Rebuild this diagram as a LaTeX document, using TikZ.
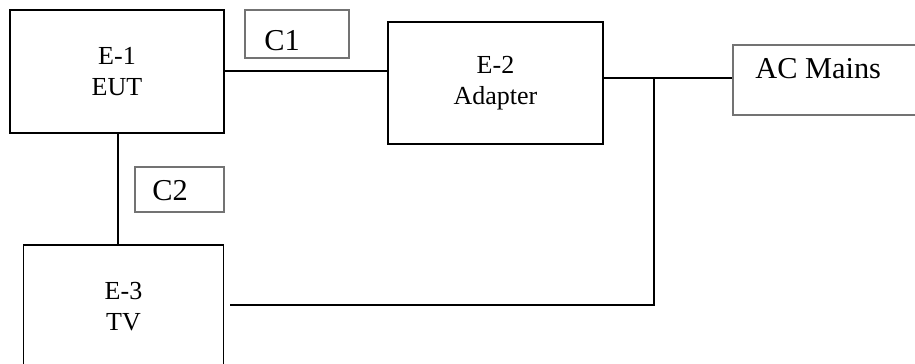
\documentclass[tikz,border=0pt]{standalone}
\usepackage{fontspec}
\setmainfont{Liberation Serif}
\def\pxu{0.4615pt}
\begin{document}
\begin{tikzpicture}[x=0.4615pt,y=-0.4615pt,
  ebox/.style={draw=black,line width=0.9pt,inner sep=0pt,align=center,font=\fontsize{12}{14.3}\selectfont},
  cbox/.style={draw=black!55,line width=0.5pt,inner sep=0pt},
  ctext/.style={inner sep=0pt,anchor=base west,font=\fontsize{14}{16}\selectfont},
  wire/.style={line width=0.8pt}]
\useasboundingbox (0,0) rectangle (915,364);
\clip (0,0) rectangle (915,364);
% equipment boxes
\node[ebox,minimum width=214*\pxu,minimum height=123*\pxu] (e1) at (117,71.5) {E-1\\EUT};
\node[ebox,minimum width=215*\pxu,minimum height=122*\pxu] (e2) at (495.5,83) {E-2\\Adapter};
\node[ebox,minimum width=200*\pxu,minimum height=124*\pxu] (e3) at (123.5,307) {E-3\\TV};
% cable / mains label boxes
\node[cbox,minimum width=104*\pxu,minimum height=48*\pxu] (c1) at (297,34) {};
\node[ctext] (c1t) at (264,50) {C1};
\node[cbox,minimum width=89*\pxu,minimum height=45*\pxu] (c2) at (179.5,189.5) {};
\node[ctext] (c2t) at (152,200) {C2};
\node[cbox,minimum width=200*\pxu,minimum height=70*\pxu] (ac) at (833,80) {};
\node[ctext] (act) at (755,78) {AC Mains};
% wiring
\coordinate (j) at (654,78);
\coordinate (t) at (230,305);
\draw[wire] (e1.east |- 0,71) -- (e2.west |- 0,71);
\draw[wire] (e2.east |- j) -- (ac.west |- j);
\draw[wire] (j) -- (j |- t) -- (t);
\draw[wire] (e1.south -| 118,0) -- (e3.north -| 118,0);
\end{tikzpicture}
\end{document}
